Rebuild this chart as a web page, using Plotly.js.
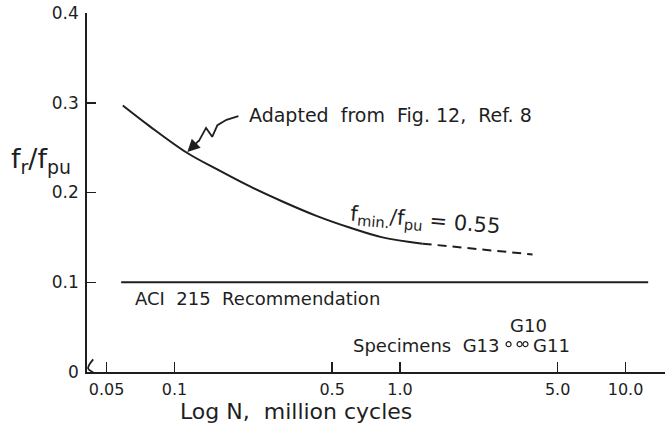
<!DOCTYPE html>
<html>
<head>
<meta charset="utf-8">
<script src="https://cdn.plot.ly/plotly-3.0.1.min.js"></script>
<style>html,body{margin:0;padding:0;background:#fff;}#chart{width:665px;height:437px;}</style>
</head>
<body>
<div id="chart"></div>
<script>
// Adapted curve (solid) from Fig. 12, Ref. 8
const curveN = [0.059, 0.0775, 0.114, 0.154, 0.215, 0.301, 0.426, 0.597, 0.836, 1.26];
const curveFr = [0.297, 0.274, 0.244, 0.226, 0.207, 0.190, 0.174, 0.161, 0.150, 0.143];
// Dashed extension
const dashN = [1.26, 3.87];
const dashFr = [0.143, 0.131];
// ACI 215 recommendation
const aciN = [0.058, 12.6];
const aciFr = [0.1, 0.1];
// Specimens
const specNames = ["G13", "G10", "G11"];
const specN = [3.03, 3.39, 3.6];
const specFr = [0.031, 0.031, 0.031];
// leader squiggle to curve
const leaderN = [0.192, 0.170, 0.155, 0.147, 0.138, 0.128];
const leaderFr = [0.285, 0.281, 0.275, 0.262, 0.272, 0.257];
const leaderTip = [0.114, 0.245];
// axis break squiggle
const breakN = [0.0436, 0.0414, 0.0440, 0.0418];
const breakFr = [0.014, 0.004, -0.002, -0.009];
// ticks
const xTickVals = [0.05, 0.1, 0.5, 1.0, 5.0, 10.0];
const xTickText = ["0.05", "0.1", "0.5", "1.0", "5.0", "10.0"];
const yTickVals = [0, 0.1, 0.2, 0.3, 0.4];
const yTickText = ["0", "0.1", "0.2", "0.3", "0.4"];

const ink = "#1e1e1e";
const FONT = "DejaVu Sans";

const traces = [
  {x: curveN, y: curveFr, mode: "lines", line: {color: ink, width: 2, shape: "spline", smoothing: 1}, hoverinfo: "skip"},
  {x: dashN, y: dashFr, mode: "lines", line: {color: ink, width: 2, dash: "9px,6px"}, hoverinfo: "skip"},
  {x: aciN, y: aciFr, mode: "lines", line: {color: ink, width: 2}, hoverinfo: "skip"},
  {x: specN, y: specFr, mode: "markers", marker: {symbol: "circle-open", size: 5, color: ink, line: {width: 1.2, color: ink}}, text: specNames, hoverinfo: "text"},
  {x: leaderN, y: leaderFr, mode: "lines", line: {color: ink, width: 1.8}, hoverinfo: "skip"},
  {x: breakN, y: breakFr, mode: "lines", line: {color: ink, width: 1.8, shape: "spline"}, cliponaxis: false, hoverinfo: "skip"}
];

const layout = {
  width: 665, height: 437,
  margin: {l: 87, r: 0, t: 13, b: 65},
  paper_bgcolor: "#fff", plot_bgcolor: "#fff",
  showlegend: false,
  font: {family: FONT, color: ink, size: 16},
  xaxis: {
    type: "log", range: [-1.388, 1.175],
    tickmode: "array", tickvals: xTickVals, ticktext: xTickText,
    ticks: "inside", ticklen: 10, tickwidth: 1.5, tickcolor: ink,
    showline: true, linecolor: ink, linewidth: 1.8,
    showgrid: false, zeroline: false,
    tickfont: {family: FONT, size: 16, color: ink},
    ticklabelstandoff: 2
  },
  yaxis: {
    range: [0, 0.4],
    tickmode: "array", tickvals: yTickVals, ticktext: yTickText,
    ticks: "inside", ticklen: 9, tickwidth: 1.5, tickcolor: ink,
    showline: true, linecolor: ink, linewidth: 1.8,
    showgrid: false, zeroline: false,
    tickfont: {family: FONT, size: 17, color: ink},
    ticklabelstandoff: 3
  },
  annotations: [
    {xref: "x", yref: "y", x: Math.log10(leaderTip[0]), y: leaderTip[1], ax: 13, ay: -13, axref: "pixel", ayref: "pixel",
     showarrow: true, arrowhead: 2, arrowsize: 1.4, arrowwidth: 1.8, arrowcolor: ink, text: ""},
    {xref: "paper", yref: "paper", x: 0.277, y: 0.716, xanchor: "left", yanchor: "middle", showarrow: false,
     text: "Adapted  from  Fig. 12,  Ref. 8", font: {family: FONT, size: 19, color: ink}},
    {xref: "paper", yref: "paper", x: 0.586, y: 0.422, xanchor: "center", yanchor: "middle", showarrow: false, textangle: 5,
     text: "f<sub>min.</sub>/f<sub>pu</sub> = 0.55", font: {family: FONT, size: 21, color: ink}},
    {xref: "paper", yref: "paper", x: 0.0796, y: 0.206, xanchor: "left", yanchor: "middle", showarrow: false,
     text: "ACI  215  Recommendation", font: {family: FONT, size: 18, color: ink}},
    {xref: "paper", yref: "paper", x: 0.718, y: 0.075, xanchor: "right", yanchor: "middle", showarrow: false,
     text: "Specimens  G13", font: {family: FONT, size: 18, color: ink}},
    {xref: "paper", yref: "paper", x: 0.763, y: 0.13, xanchor: "center", yanchor: "middle", showarrow: false,
     text: "G10", font: {family: FONT, size: 18, color: ink}},
    {xref: "paper", yref: "paper", x: 0.768, y: 0.075, xanchor: "left", yanchor: "middle", showarrow: false,
     text: "G11", font: {family: FONT, size: 18, color: ink}},
    {xref: "paper", yref: "paper", x: -0.08, y: 0.59, xanchor: "center", yanchor: "middle", showarrow: false,
     text: "f<sub>r</sub>/f<sub>pu</sub>", font: {family: FONT, size: 27, color: ink}},
    {xref: "paper", yref: "paper", x: 0.362, y: -0.109, xanchor: "center", yanchor: "middle", showarrow: false,
     text: "Log N,  million cycles", font: {family: FONT, size: 22, color: ink}}
  ]
};

Plotly.newPlot("chart", traces, layout, {displayModeBar: false, staticPlot: true});
</script>
</body>
</html>
